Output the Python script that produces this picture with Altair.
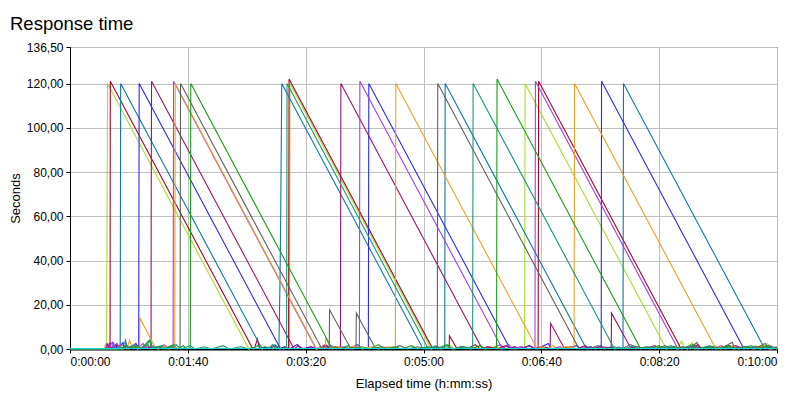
import altair as alt
import pandas as pd

# --- DATA ---
# each series: (elapsed seconds, response time in seconds)
YELLOW_GREEN = [(0, 0), (29, 0), (30, 2), (31, 0.5), (31.9, 120), (151.9, 0), (154, 1), (156, 0), (160, 2), (163, 0),
                (168, 1), (172, 0), (177, 1.5), (181, 0), (186.3, 0.5), (186.7, 120), (306.7, 0), (312, 1), (315, 0),
                (322, 2), (326, 0), (334, 1), (340, 0), (348, 1.5), (352, 0), (360, 1), (366, 0), (373, 2), (377, 0),
                (385.8, 0.5), (386.2, 120), (506.2, 0), (512, 1), (515, 0), (519, 3.5), (521, 1), (524, 0), (528, 3),
                (530, 0), (536, 1), (540, 0), (548, 1.5), (552, 0), (559, 1), (563, 0), (571, 1), (575, 0), (582, 1.5),
                (586, 0), (592, 2.5), (595, 0), (600, 1)]
DARK_RED = [(0, 0), (31, 0), (32, 2.5), (33, 0.5), (34, 0), (34.2, 121), (155.2, 0), (157, 1), (159, 4.5), (161, 0),
            (165, 1), (169, 0), (174, 1.5), (178, 0), (182, 1), (185.5, 0), (185.9, 122), (307.9, 0), (312, 1),
            (316, 0), (321.8, 0.5), (322, 6), (328, 0.5), (332, 1), (337, 0), (344, 2), (348, 0), (356, 1), (362, 0),
            (370, 1.5), (375, 0), (383, 1), (390, 0), (397.3, 0.5), (397.7, 121), (518.7, 0), (523, 1), (527, 0),
            (533, 2), (536, 0), (545, 1), (550, 0), (560, 1.5), (564, 0), (574, 1), (580, 0), (590, 1), (600, 0)]
TEAL_BLUE = [(0, 0), (36, 0), (37, 3), (38, 0), (41, 1.5), (42.6, 0), (42.8, 60), (43, 120), (163, 0), (166, 1),
             (169, 0), (172, 2), (175, 0), (177.3, 1), (178.2, 30), (178.8, 60), (179.7, 120), (299.7, 0), (303, 1),
             (306, 0), (310, 1.5), (313, 0), (318, 0.5), (318.4, 120), (438.4, 0), (442, 1), (446, 0), (450, 1.5),
             (454, 0), (459, 1), (463, 0), (469.3, 0.5), (469.7, 120), (589.7, 0), (594, 1), (597, 0), (600, 0.5)]
BLUE = [(0, 0), (37, 0), (39, 2), (40, 0), (45, 3), (46, 0.5), (52, 1), (54, 0), (58.3, 0.5), (58.5, 60),
        (58.7, 120), (178.7, 0), (182, 1), (186, 0), (193, 2), (196, 0), (204, 1), (210, 0), (218, 1.5), (222, 0),
        (230, 1), (236, 0), (244, 2), (248, 0), (253.2, 0.5), (253.6, 120), (373.6, 0), (378, 1), (382, 0),
        (390, 1.5), (394, 0), (400, 1), (406, 2.5), (408, 0), (416, 1), (421, 0), (430, 1.5), (434, 0), (442, 1),
        (446, 0), (450.8, 0.5), (451.1, 121), (572, 0), (576, 1), (580, 0), (588, 1.5), (593, 0), (600, 0.5)]
MAGENTA = [(0, 0), (33, 0), (34, 3), (35, 0.5), (40, 2), (42, 0), (48, 1.5), (50, 0), (56, 2.5), (58, 0), (64, 1),
           (68.8, 0.5), (68.9, 60), (69.2, 121), (190.2, 0), (194, 1.5), (198, 0), (205, 1), (210, 0), (217, 2),
           (220, 0), (225, 1), (229.5, 0.5), (229.9, 120), (349.9, 0), (354, 1), (358, 0), (365, 2), (369, 0),
           (377, 1), (382, 0), (390, 1.5), (395, 0), (400, 1), (407.5, 0.5), (407.8, 11.6), (419.4, 0.5), (425, 1),
           (430, 0), (437, 1.5), (442, 0), (450, 1), (459.3, 0.5), (459.6, 16.2), (475.8, 0.5), (482, 1), (488, 0),
           (496, 1.5), (502, 0), (512, 1), (520, 0), (530, 1.5), (536, 0), (546, 1), (554, 0), (565, 1.5), (572, 0),
           (582, 1), (590, 0), (600, 0.5)]
VIOLET = [(0, 0), (30, 0), (31, 2), (32, 0), (36, 3), (37, 1), (40, 2.5), (42, 0.5), (47, 3), (49, 0.5), (55, 2),
          (57, 0), (62, 2.5), (64, 0.5), (70, 1.5), (74, 0), (80, 2), (83, 0.5), (87.5, 0.5), (87.9, 121),
          (208.9, 0), (212, 1), (216, 0), (222, 1.5), (226, 0), (233, 1), (238, 0), (245.6, 0.5), (246, 121),
          (367, 0), (372, 2), (375, 0), (383, 1), (388, 0), (394.6, 0.5), (395, 121), (516, 0), (520, 1), (524, 0),
          (530, 2), (533, 0), (540, 1), (545, 0), (553, 1.5), (557, 0), (566, 1), (572, 0), (580, 1), (586, 0),
          (594, 1.5), (600, 0)]
ORANGE = [(0, 0), (40, 0), (42, 2), (44, 0), (49, 1), (50.5, 4), (53, 0.5), (59.1, 0.5), (59.3, 14), (72, 1),
          (75, 0), (80, 1.5), (84, 0), (88.9, 0.5), (89.3, 120), (209.3, 0), (213, 1), (216.8, 0.5), (217, 5),
          (221, 0.5), (228, 1), (234, 0), (242, 1.5), (248, 0), (256, 1), (262, 0), (270, 1), (276.1, 0.5),
          (276.5, 120), (396.5, 0), (400, 1), (404, 0), (410, 1.5), (414, 0), (420, 1), (427.8, 0.5), (428.2, 120),
          (548.2, 0), (552, 1), (556, 0), (563, 1.5), (567, 0), (575, 1), (580, 0), (588, 1.5), (594, 0), (600, 0.5)]
GRAY = [(0, 0), (44, 0), (46, 1.5), (48, 0), (55, 1), (58, 0), (66, 2), (68, 0), (75, 1), (80, 0), (86, 1.5),
        (89, 0), (93.4, 0.5), (93.8, 120), (213.8, 0), (216, 1), (220, 0.5), (220.3, 17.7), (238, 0.5),
        (242.7, 0.5), (243, 16.2), (259, 0.5), (265, 1), (272, 0), (280, 1.5), (286, 0), (295, 1), (302, 0),
        (311.7, 0.5), (312.1, 120), (432.1, 0), (436, 1), (440, 0), (448, 1.5), (453, 0), (462, 1), (468, 0),
        (476, 2), (480, 0), (490, 1), (497, 0), (505, 1.5), (510, 0), (520, 1), (526, 0), (532, 3), (534, 0),
        (545, 1), (552, 0), (562, 3), (564, 0.5), (572, 1), (580, 0), (590, 2.5), (593, 0), (600, 1)]
GREEN = [(0, 0), (46, 0), (48, 2), (50, 0), (57, 1.5), (60, 0), (67.5, 4), (69, 0.5), (76, 1), (80, 0), (88, 2),
         (91, 0), (96, 1.5), (99, 0), (102.1, 0.5), (102.5, 120), (222.5, 0), (225, 1), (229, 0), (236, 1.5),
         (240, 0), (248, 1), (254, 0), (262, 2), (266, 0), (275, 1), (282, 0), (290, 1.5), (295, 0), (304, 1),
         (310, 0), (320, 2), (324, 0), (333, 1), (340, 0), (348, 1.5), (353, 0), (362, 0.5), (362.4, 122),
         (484.4, 0), (488, 1), (492, 0), (500, 1.5), (505, 0), (513, 1), (519, 0), (528, 2), (532, 0), (542, 1),
         (548, 0), (558, 1.5), (564, 0), (575, 1), (582, 0), (592, 1.5), (600, 0)]
TEAL_GREEN = [(0, 0), (40, 0), (42, 1.5), (44, 0), (46.5, 0.5), (47, 4.5), (48.5, 0.5), (55, 2), (57, 0), (64, 1),
              (68, 4), (70, 0.5), (78, 1.5), (82, 0), (90, 2), (94, 0), (102, 1.5), (106, 0), (114, 1), (120, 0),
              (130, 1.5), (135, 0), (145, 1), (152, 0), (160, 1.5), (166, 0), (174, 2), (178, 0), (183.8, 0.5),
              (184.2, 120), (304.2, 0), (308, 1), (312, 0), (320, 1.5), (325, 0), (333, 1), (341.7, 0.5),
              (342.1, 120), (462.1, 0), (466, 1), (470, 0), (478, 1.5), (484, 0), (493, 1), (500, 0), (510, 1.5),
              (516, 0), (526, 1), (533, 0), (543, 1.5), (550, 0), (560, 1), (568, 0), (578, 1.5), (585, 0),
              (594, 1), (600, 0)]
CYAN = [(0, 0.2), (600, 0.2)]

SERIES = {
    'Yellow green': (YELLOW_GREEN, '#a4e030'),
    'Dark red': (DARK_RED, '#b00028'),
    'Teal blue': (TEAL_BLUE, '#0a78b0'),
    'Blue': (BLUE, '#2a2af8'),
    'Magenta': (MAGENTA, '#a0106a'),
    'Violet': (VIOLET, '#a43cf8'),
    'Orange': (ORANGE, '#f0a020'),
    'Gray': (GRAY, '#606060'),
    'Green': (GREEN, '#16a016'),
    'Teal green': (TEAL_GREEN, '#1a9878'),
    'Cyan': (CYAN, '#18d8d8'),
}

X_TICKS = [0, 100, 200, 300, 400, 500, 600]
Y_TICKS = [0, 20, 40, 60, 80, 100, 120, 136.5]

rows = []
for name, (points, _) in SERIES.items():
    for i, (t, v) in enumerate(points):
        rows.append({'series': name, 'i': i, 'elapsed': t, 'response': v})
df = pd.DataFrame(rows)

font = 'Liberation Sans'
x_label = ("'0:' + (floor(datum.value / 60) < 10 ? '0' : '') + floor(datum.value / 60) + ':' + "
           "(datum.value % 60 < 10 ? '0' : '') + (datum.value % 60)")

chart = alt.Chart(df).mark_line(strokeWidth=1.1, interpolate='linear').encode(
    x=alt.X('elapsed:Q',
            scale=alt.Scale(domain=[0, 600], nice=False),
            axis=alt.Axis(values=X_TICKS, labelExpr=x_label, title='Elapsed time (h:mm:ss)',
                          domainWidth=2, titlePadding=10)),
    y=alt.Y('response:Q',
            scale=alt.Scale(domain=[0, 136.5], nice=False),
            axis=alt.Axis(values=Y_TICKS, labelExpr="replace(format(datum.value, '.2f'), '.', ',')",
                          title='Seconds', titleX=-55, titleY=151, titleBaseline='middle')),
    color=alt.Color('series:N',
                    scale=alt.Scale(domain=list(SERIES.keys()), range=[c for _, c in SERIES.values()]),
                    legend=None),
    order=alt.Order('i:Q'),
).properties(
    width=707,
    height=302,
    autosize='none',
    padding={'left': 62, 'top': 39, 'right': 15, 'bottom': 43},
    title=alt.TitleParams('Response time', anchor='start', frame='group', dx=-60, offset=8,
                          font=font, fontSize=18.5, fontWeight='normal', color='black'),
).configure_view(
    stroke='black', strokeWidth=1
).configure_axis(
    labelFont=font, labelFontSize=12, labelColor='black', labelPadding=3,
    titleFont=font, titleFontSize=13, titleFontWeight='normal', titleColor='black',
    grid=True, gridColor='#c0c0c0', gridWidth=1,
    domainColor='black', tickColor='black', tickSize=4,
)

chart.save('out.html', embed_options={'renderer': 'svg', 'actions': False})
